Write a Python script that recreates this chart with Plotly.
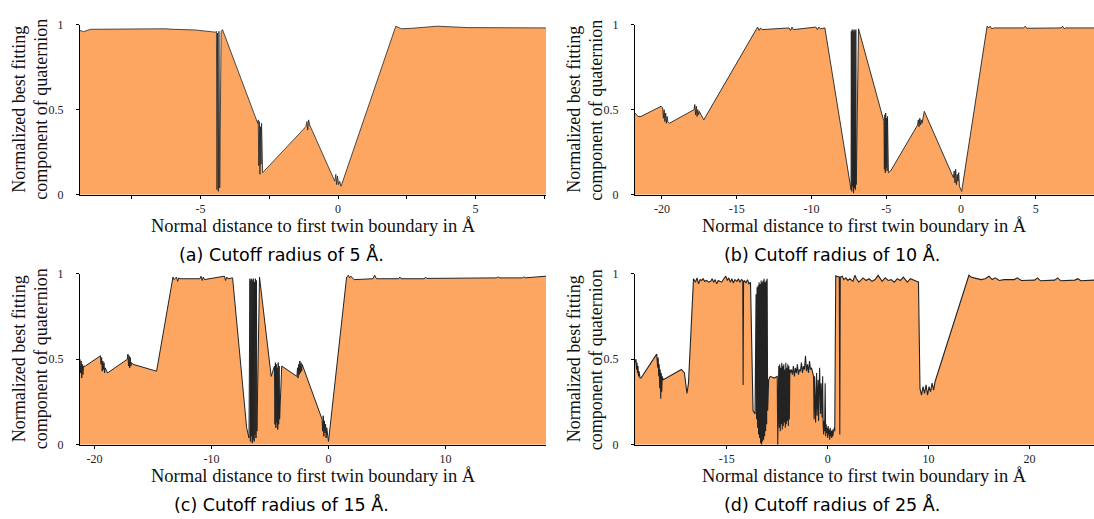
import plotly.graph_objects as go

# ---------------------------------------------------------------
# Best fitting quaternion component vs. distance to twin boundary
# ---------------------------------------------------------------

# Cutoff radius 5 Å
x_r5 = [-9.38, -9.25, -9.0, -7.5, -6.3, -6.0, -5.2, -4.45, -4.42, -4.40, -4.38, -4.35, -4.33, -4.30, -4.25, -4.2,
        -2.92, -2.90, -2.88, -2.86, -2.84, -2.82, -2.80, -2.78, -2.74,
        -1.17, -1.13, -1.10, -1.07, -1.03,
        -0.12, -0.08, -0.05, -0.02, 0.02, 0.06, 0.11,
        2.1, 2.3, 2.7, 3.4, 3.6, 4.7, 5.7, 7.6]
q_r5 = [0.965, 0.958, 0.972, 0.975, 0.975, 0.972, 0.968, 0.955, 0.96, 0.03, 0.95, 0.02, 0.96, 0.04, 0.96, 0.97,
        0.42, 0.44, 0.17, 0.43, 0.12, 0.40, 0.18, 0.42, 0.13,
        0.40, 0.43, 0.38, 0.44, 0.41,
        0.08, 0.12, 0.06, 0.11, 0.06, 0.08, 0.05,
        0.99, 0.975, 0.978, 0.985, 0.99, 0.982, 0.98, 0.98]

# Cutoff radius 10 Å
x_r10 = [-21.8, -21.6, -21.4, -20.05, -19.95, -19.9, -19.85, -19.8, -19.75, -19.7, -19.65, -19.6, -19.5,
         -17.85, -17.8, -17.75, -17.7, -17.65, -17.6, -17.55, -17.5, -17.2,
         -13.7, -13.6, -13.5, -13.4, -13.3, -12.0, -11.5, -11.4, -11.3, -11.2, -10.0, -9.7, -9.6, -9.5, -9.4, -9.1,
         -7.35, -7.33, -7.3, -7.27, -7.24, -7.21, -7.18, -7.15, -7.12, -7.09, -7.06, -7.03, -7.0, -6.85,
         -5.15, -5.12, -5.09, -5.06, -5.03, -5.0, -4.97, -4.94, -4.91, -4.88, -4.85, -4.7,
         -2.9, -2.85, -2.8, -2.75, -2.7, -2.65, -2.6, -2.45,
         -0.5, -0.45, -0.4, -0.35, -0.3, -0.25, -0.2, -0.15, -0.1, 0.05,
         1.75, 1.85, 1.95, 2.05, 2.2, 4.2, 4.3, 4.4, 6.7, 6.8, 6.9, 7.0, 8.9]
q_r10 = [0.48, 0.46, 0.46, 0.52, 0.51, 0.45, 0.50, 0.43, 0.48, 0.42, 0.46, 0.43, 0.42,
         0.50, 0.53, 0.47, 0.52, 0.46, 0.50, 0.47, 0.49, 0.44,
         0.97, 0.985, 0.965, 0.98, 0.97, 0.975, 0.98, 0.965, 0.985, 0.97, 0.98, 0.985, 0.97, 0.985, 0.975, 0.98,
         0.03, 0.96, 0.02, 0.97, 0.05, 0.96, 0.01, 0.97, 0.04, 0.96, 0.03, 0.97, 0.06, 0.975,
         0.43, 0.15, 0.47, 0.13, 0.48, 0.16, 0.45, 0.14, 0.46, 0.17, 0.13, 0.14,
         0.41, 0.44, 0.40, 0.45, 0.41, 0.44, 0.42, 0.49,
         0.10, 0.14, 0.07, 0.15, 0.06, 0.12, 0.08, 0.13, 0.05, 0.02,
         0.99, 0.98, 0.99, 0.975, 0.98, 0.98, 0.99, 0.978, 0.98, 0.99, 0.975, 0.98, 0.98]

# Cutoff radius 15 Å
x_r15 = [-21.25, -21.2, -21.15, -21.1, -21.05, -21.0, -20.95, -20.8,
         -19.5, -19.45, -19.4, -19.35, -19.3, -19.25, -19.2, -19.15, -19.1, -19.0, -18.9,
         -17.2, -17.15, -17.1, -17.05, -17.0, -16.95, -16.9, -16.85, -16.7,
         -14.7, -13.3, -13.2, -13.0, -12.9, -12.8, -12.7, -11.0, -10.9, -10.8, -10.7, -10.6,
         -9.0, -8.9, -8.8, -8.7, -8.6, -8.2,
         -7.0, -6.8, -6.72, -6.68, -6.64, -6.60, -6.56, -6.52, -6.48, -6.44, -6.40, -6.36, -6.32, -6.28,
         -6.24, -6.20, -6.16, -6.12, -5.9,
         -4.9, -4.62, -4.58, -4.54, -4.50, -4.46, -4.42, -4.38, -4.34, -4.30, -4.26, -4.22, -4.18, -4.0,
         -2.7, -2.65, -2.6, -2.55, -2.5, -2.45, -2.4, -2.35, -2.3, -2.25, -2.2,
         -0.55, -0.5, -0.45, -0.4, -0.35, -0.3, -0.25, -0.2, -0.15, -0.1, 0.0,
         1.55, 1.7, 1.8, 1.9, 2.2, 3.8, 3.95, 4.1, 6.0, 6.1, 6.2, 8.2, 8.3, 8.4,
         14.4, 14.5, 14.6, 16.6, 16.7, 16.8, 18.6]
q_r15 = [0.50, 0.42, 0.49, 0.39, 0.47, 0.41, 0.46, 0.46,
         0.52, 0.47, 0.51, 0.43, 0.49, 0.44, 0.48, 0.42, 0.45, 0.43, 0.42,
         0.50, 0.53, 0.46, 0.52, 0.45, 0.51, 0.46, 0.48, 0.47,
         0.43, 0.98, 0.965, 0.98, 0.955, 0.975, 0.97, 0.97, 0.985, 0.96, 0.98, 0.965,
         0.98, 0.985, 0.96, 0.98, 0.97, 0.975,
         0.10, 0.04, 0.97, 0.02, 0.96, 0.05, 0.97, 0.01, 0.96, 0.03, 0.97, 0.02, 0.95, 0.06,
         0.97, 0.04, 0.96, 0.08, 0.98,
         0.40, 0.46, 0.12, 0.48, 0.10, 0.47, 0.13, 0.45, 0.09, 0.48, 0.12, 0.46, 0.15, 0.46,
         0.40, 0.45, 0.39, 0.47, 0.41, 0.49, 0.42, 0.48, 0.43, 0.47, 0.46,
         0.15, 0.08, 0.17, 0.05, 0.14, 0.07, 0.12, 0.04, 0.10, 0.06, 0.02,
         0.98, 0.99, 0.975, 0.985, 0.965, 0.97, 0.99, 0.97, 0.97, 0.98, 0.97, 0.97, 0.98, 0.972,
         0.975, 0.982, 0.975, 0.975, 0.982, 0.975, 0.985]

# Cutoff radius 25 Å
x_r25 = [-19.1, -19.0, -18.95, -18.9, -18.85, -18.8, -18.75, -18.7, -18.6, -18.5,
         -16.95, -16.9, -16.85, -16.8, -16.75, -16.7, -16.65, -16.6, -16.55, -16.5, -16.45, -16.4, -16.3,
         -14.5, -14.2, -13.95, -13.8,
         -13.3, -13.1, -12.95, -12.8, -12.65, -12.5, -12.35, -12.2, -12.0, -11.8, -11.6, -11.45, -11.3,
         -11.15, -11.0, -10.85, -10.7, -10.5, -10.3, -10.1, -9.95, -9.8, -9.65, -9.5, -9.35, -9.2, -9.0,
         -8.85, -8.7, -8.55, -8.42, -8.38, -8.34, -8.25, -8.1, -7.95, -7.8, -7.65,
         -7.4, -7.2,
         -7.1, -7.05, -7.0, -6.95, -6.9, -6.85, -6.8, -6.75, -6.7, -6.65, -6.6, -6.55, -6.5, -6.45,
         -6.4, -6.35, -6.3, -6.25, -6.2, -6.15, -6.1, -6.05, -6.0, -5.95,
         -5.85, -5.7, -5.3, -5.0, -4.95, -4.9,
         -4.85, -4.8, -4.75, -4.7, -4.65, -4.6, -4.55, -4.5, -4.45, -4.4, -4.35, -4.3, -4.25, -4.2,
         -4.15, -4.1, -4.05, -4.0, -3.95, -3.9, -3.85, -3.8, -3.75, -3.7,
         -3.6, -3.5, -3.4, -3.3, -3.2, -3.1, -3.0, -2.9, -2.8, -2.7, -2.6, -2.5, -2.4, -2.3, -2.2,
         -2.1, -2.0, -1.9, -1.8, -1.7, -1.6, -1.5, -1.4,
         -1.35, -1.3, -1.2, -1.1, -1.05, -0.95, -0.9, -0.8, -0.7, -0.65, -0.55, -0.5,
         -0.45, -0.4, -0.35, -0.3, -0.25, -0.2, -0.15, -0.1, -0.05, 0.0, 0.05, 0.1, 0.15, 0.2,
         0.25, 0.3, 0.35, 0.4, 0.45, 0.5, 0.55, 0.6, 0.65, 0.7,
         0.8, 0.85, 1.15, 1.2, 1.25,
         1.3, 1.45, 1.6, 1.8, 2.0, 2.2, 2.5, 2.7, 2.85, 3.1, 3.3, 3.5, 3.8, 4.1, 4.4, 4.7,
         5.0, 5.2, 5.4, 5.7, 6.0, 6.3, 6.6, 6.9, 7.2, 7.5, 7.7, 7.9, 8.2, 8.5, 8.8, 9.0,
         9.15, 9.3, 9.45, 9.6, 9.75, 9.9, 10.05, 10.2, 10.35, 10.5, 10.65,
         14.0, 14.2, 14.5, 14.8, 15.2, 15.6, 16.0, 16.3, 16.6, 17.0, 17.5, 18.5, 18.8, 19.2,
         20.5, 20.8, 21.1, 22.5, 22.8, 23.1, 24.5, 24.8, 25.1, 26.4]
q_r25 = [0.48, 0.50, 0.44, 0.48, 0.42, 0.46, 0.40, 0.43, 0.39, 0.39,
         0.53, 0.50, 0.45, 0.51, 0.40, 0.47, 0.33, 0.44, 0.27, 0.42, 0.31, 0.40, 0.38,
         0.44, 0.42, 0.30, 0.36,
         0.97, 0.95, 0.975, 0.94, 0.965, 0.96, 0.97, 0.955, 0.96, 0.95, 0.955, 0.97, 0.95,
         0.965, 0.94, 0.96, 0.955, 0.95, 0.97, 0.985, 0.96, 0.975, 0.95, 0.97, 0.945, 0.965, 0.955,
         0.97, 0.95, 0.965, 0.96, 0.35, 0.95, 0.96, 0.945, 0.965, 0.94, 0.95,
         0.20, 0.18,
         0.88, 0.15, 0.92, 0.10, 0.93, 0.06, 0.95, 0.04, 0.94, 0.01, 0.96, 0.00, 0.95, 0.02,
         0.96, 0.03, 0.97, 0.05, 0.95, 0.08, 0.96, 0.12, 0.97, 0.20,
         0.38, 0.40, 0.39, 0.40, 0.00, 0.40,
         0.46, 0.10, 0.47, 0.08, 0.45, 0.12, 0.48, 0.09, 0.46, 0.11, 0.47, 0.13, 0.44, 0.10,
         0.48, 0.12, 0.45, 0.14, 0.47, 0.11, 0.46, 0.15, 0.44, 0.42,
         0.44, 0.41, 0.46, 0.40, 0.45, 0.42, 0.47, 0.41, 0.44, 0.43, 0.48, 0.42, 0.46, 0.44, 0.52,
         0.43, 0.47, 0.42, 0.49, 0.44, 0.45, 0.41, 0.40,
         0.15, 0.40, 0.13, 0.42, 0.17, 0.38, 0.14, 0.45, 0.18, 0.36, 0.16, 0.40,
         0.12, 0.06, 0.14, 0.08, 0.36, 0.05, 0.12, 0.07, 0.10, 0.04, 0.11, 0.06, 0.09, 0.03,
         0.10, 0.05, 0.08, 0.04, 0.09, 0.05, 0.07, 0.06, 0.10, 0.08,
         0.99, 0.985, 0.98, 0.06, 0.98,
         0.98, 0.985, 0.965, 0.975, 0.96, 0.97, 0.955, 0.99, 0.97, 0.95, 0.965, 0.975, 0.96, 0.97, 0.955, 0.965,
         0.99, 0.97, 0.955, 0.975, 0.96, 0.965, 0.95, 0.97, 0.96, 0.98, 0.965, 0.95, 0.97, 0.96, 0.955, 0.95,
         0.33, 0.29, 0.34, 0.30, 0.35, 0.29, 0.34, 0.31, 0.36, 0.32, 0.37,
         0.99, 0.98, 0.975, 0.97, 0.965, 0.97, 0.985, 0.965, 0.975, 0.96, 0.965, 0.965, 0.975, 0.96,
         0.962, 0.975, 0.958, 0.962, 0.975, 0.958, 0.962, 0.97, 0.958, 0.962]

# Axis ranges and tick labels per panel
x_ranges = [[-9.38, 7.56], [-21.8, 8.9], [-21.25, 18.6], [-19.1, 26.4]]
x_tickvals = [[-7.5, -5, -2.5, 0, 2.5, 5, 7.5],
              [-20, -15, -10, -5, 0, 5],
              [-20, -10, 0, 10],
              [-10, 0, 10, 20]]
x_ticktext = [["", "-5", "", "0", "", "5", ""],
              ["-20", "-15", "-10", "-5", "0", "5"],
              ["-20", "-10", "0", "10"],
              ["-15", "0", "10", "20"]]
y_tickvals = [0, 0.5, 1]
y_ticktext = ["0", "0.5", "1"]

captions = ["(a) Cutoff radius of 5 Å.", "(b) Cutoff radius of 10 Å.",
            "(c) Cutoff radius of 15 Å.", "(d) Cutoff radius of 25 Å."]
x_title = "Normal distance to first twin boundary in Å"
y_title_lines = ["Normalized best fitting", "component of quaternion"]

series = [(x_r5, q_r5), (x_r10, q_r10), (x_r15, q_r15), (x_r25, q_r25)]
edge_widths = [0.8, 0.9, 1.0, 1.1]

# ---------------- layout geometry ----------------
W, H = 1094, 519
col_px = [(80, 546), (635, 1094)]
row_px = [(18, 193), (274, 450)]   # (top, bottom) in pixels
caption_cx = [281, 832]

FILL = "#FDA661"
EDGE = "#232323"
SERIF = "Liberation Serif"
SANS = "DejaVu Sans"

fig = go.Figure()
annotations = []
layout_axes = {}

for i, (xs, qs) in enumerate(series):
    r, c = divmod(i, 2)
    x0, x1 = col_px[c]
    top, bot = row_px[r]
    xd = [x0 / W, x1 / W]
    yd = [1 - bot / H, 1 - top / H]
    n = "" if i == 0 else str(i + 1)

    fig.add_trace(go.Scatter(
        x=xs, y=qs, mode="lines", fill="tozeroy", fillcolor=FILL,
        line=dict(color=EDGE, width=edge_widths[i]), hoverinfo="skip",
        xaxis="x" + n, yaxis="y" + n, showlegend=False))

    layout_axes["xaxis" + n] = dict(
        domain=xd, anchor="y" + n, range=x_ranges[i],
        tickmode="array", tickvals=x_tickvals[i], ticktext=x_ticktext[i],
        showline=True, linecolor="black", linewidth=1,
        ticks="outside", ticklen=3, tickcolor="black", tickwidth=1,
        ticklabelstandoff=0,
        showgrid=False, zeroline=False,
        tickfont=dict(family=SERIF, size=12, color="#222"))
    layout_axes["yaxis" + n] = dict(
        domain=yd, anchor="x" + n, range=[0, 1],
        tickmode="array", tickvals=y_tickvals, ticktext=y_ticktext,
        showline=True, linecolor="black", linewidth=1,
        ticks="outside", ticklen=3, tickcolor="black", tickwidth=1,
        ticklabelstandoff=10,
        showgrid=False, zeroline=False,
        tickfont=dict(family=SERIF, size=12, color="#222"))

    # axis titles
    annotations.append(dict(
        text=x_title, x=(x0 + x1) / 2 / W, y=1 - (bot + 32) / H,
        xref="paper", yref="paper", showarrow=False,
        xanchor="center", yanchor="middle",
        font=dict(family=SERIF, size=18.5, color="#111")))
    for k, line in enumerate(y_title_lines):
        annotations.append(dict(
            text=line, x=(x0 - 61 + 22 * k) / W, y=1 - (top + bot) / 2 / H,
            xref="paper", yref="paper", showarrow=False, textangle=-90,
            xanchor="center", yanchor="middle",
            font=dict(family=SERIF, size=18, color="#111")))
    # caption
    annotations.append(dict(
        text=captions[i], x=caption_cx[c] / W, y=1 - (bot + 61) / H,
        xref="paper", yref="paper", showarrow=False,
        xanchor="center", yanchor="middle",
        font=dict(family=SANS, size=17.5, color="black")))

fig.update_layout(
    width=W, height=H, margin=dict(l=0, r=0, t=0, b=0),
    paper_bgcolor="white", plot_bgcolor="white",
    annotations=annotations, showlegend=False, **layout_axes)

fig.write_html("out.html")
